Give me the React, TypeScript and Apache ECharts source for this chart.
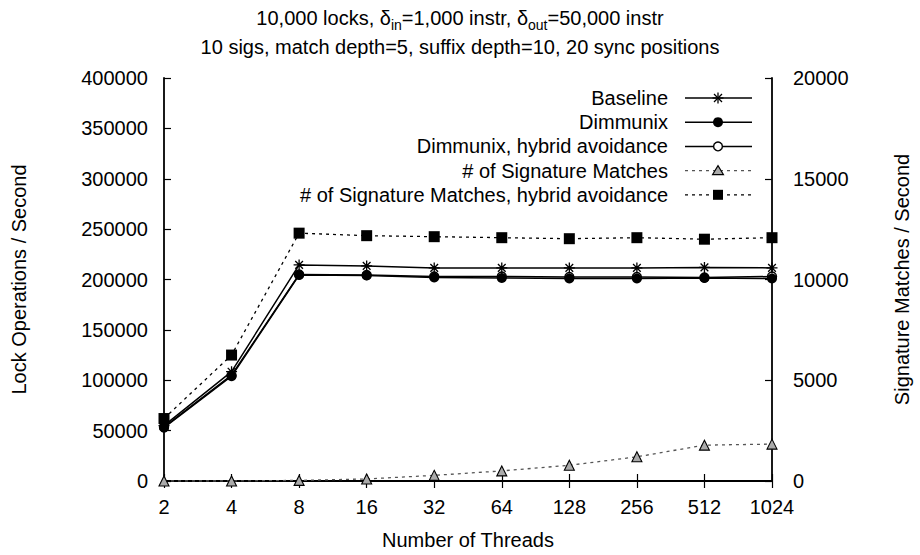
import React, { useEffect, useRef } from "react";
import * as echarts from "echarts";

const threads = ["2", "4", "8", "16", "32", "64", "128", "256", "512", "1024"];
const baseline = [55000, 108500, 214500, 213500, 211500, 211500, 211500, 211500, 212000, 211500];
const dimmunix = [53000, 104000, 204500, 204000, 202000, 201500, 201000, 201000, 201500, 201000];
const dimmunixHybrid = [53500, 105000, 205000, 204500, 203000, 203000, 202500, 202500, 202000, 203000];
const sigMatches = [0, 0, 30, 100, 280, 500, 780, 1200, 1780, 1830];
const sigMatchesHybrid = [3100, 6250, 12300, 12175, 12125, 12075, 12025, 12075, 12000, 12075];

const seriesNames = [
  "Baseline",
  "Dimmunix",
  "Dimmunix, hybrid avoidance",
  "# of Signature Matches",
  "# of Signature Matches, hybrid avoidance",
];
const leftTicks = { min: 0, max: 400000, interval: 50000 };
const rightTicks = { min: 0, max: 20000, interval: 5000 };

const FONT = "'Liberation Sans', Arial, Helvetica, sans-serif";
const FS = 20;
const STAR = "path://M0,-10L0,10M-10,0L10,0M-7,-7L7,7M-7,7L7,-7";

export default function App() {
  const ref = useRef<HTMLDivElement>(null);
  useEffect(() => {
    if (!ref.current) return;
    const chart = echarts.init(ref.current, undefined, { renderer: "svg" });
    const grid = { left: 164, right: 139, top: 78, bottom: 73 };
    const legendX = 668;
    const legendY0 = 98;
    const legendDy = 24.2;
    const sx0 = 685;
    const sx1 = 752;
    const mx = 718;
    const legendItems: any[] = [];
    const dash = [3, 4];
    seriesNames.forEach((name, i) => {
      const y = legendY0 + i * legendDy;
      legendItems.push({
        type: "text",
        x: legendX,
        y,
        style: { text: name, font: `${FS}px ${FONT}`, fill: "#000", align: "right", verticalAlign: "middle" },
      });
      legendItems.push({
        type: "line",
        shape: { x1: sx0, y1: y, x2: sx1, y2: y },
        style: {
          stroke: i === 3 ? "#555" : "#000",
          lineWidth: i < 3 ? 1.5 : 1.3,
          lineDash: i < 3 ? null : dash,
        },
      });
      if (i === 0) {
        const r = 5.5;
        const d = 4;
        [
          [0, -r, 0, r],
          [-r, 0, r, 0],
          [-d, -d, d, d],
          [-d, d, d, -d],
        ].forEach((s) =>
          legendItems.push({
            type: "line",
            shape: { x1: mx + s[0], y1: y + s[1], x2: mx + s[2], y2: y + s[3] },
            style: { stroke: "#000", lineWidth: 1.3 },
          })
        );
      } else if (i === 1) {
        legendItems.push({ type: "circle", shape: { cx: mx, cy: y, r: 5 }, style: { fill: "#000" } });
      } else if (i === 2) {
        legendItems.push({
          type: "circle",
          shape: { cx: mx, cy: y, r: 4.4 },
          style: { fill: "#fff", stroke: "#000", lineWidth: 1.4 },
        });
      } else if (i === 3) {
        legendItems.push({
          type: "polygon",
          shape: { points: [[mx, y - 5], [mx + 5.5, y + 4], [mx - 5.5, y + 4]] },
          style: { fill: "#aaa", stroke: "#000", lineWidth: 1.1 },
        });
      } else {
        legendItems.push({ type: "rect", shape: { x: mx - 5, y: y - 5, width: 10, height: 10 }, style: { fill: "#000" } });
      }
    });

    const axisLine = { show: true, lineStyle: { color: "#000", width: 1.8 } };
    const tick = { show: true, inside: true, length: 7, lineStyle: { color: "#000", width: 1.2 } };
    const labelStyle = { color: "#000", fontSize: FS, fontFamily: FONT };
    const plain = (v: number) => String(v);

    chart.setOption({
      animation: false,
      backgroundColor: "#fff",
      textStyle: { fontFamily: FONT },
      title: {
        text: "{n|10,000 locks, δ}{sub|in}{n|=1,000 instr, δ}{sub|out}{n|=50,000 instr}\n{n|10 sigs, match depth=5, suffix depth=10, 20 sync positions}",
        left: "center",
        top: -2,
        textStyle: {
          fontSize: FS,
          fontWeight: "normal",
          fontFamily: FONT,
          color: "#000",
          lineHeight: 29,
          rich: {
            n: { fontSize: FS, fontFamily: FONT, color: "#000", lineHeight: 29, verticalAlign: "middle" },
            sub: { fontSize: 14, fontFamily: FONT, color: "#000", lineHeight: 29, verticalAlign: "bottom", padding: [0, 0, 0, 0] },
          },
        },
      },
      grid: { ...grid, show: false },
      xAxis: [
        {
          type: "category",
          data: threads,
          boundaryGap: false,
          position: "bottom",
          axisLine,
          axisTick: { ...tick, alignWithLabel: true },
          axisLabel: { ...labelStyle, margin: 16 },
          splitLine: { show: false },
          name: "Number of Threads",
          nameLocation: "middle",
          nameGap: 49,
          nameTextStyle: labelStyle,
        },
        {
          type: "category",
          data: threads,
          boundaryGap: false,
          position: "top",
          axisLine,
          axisTick: tick,
          axisLabel: { show: false },
          splitLine: { show: false },
        },
      ],
      yAxis: [
        {
          type: "value",
          position: "left",
          ...leftTicks,
          axisLine,
          axisTick: tick,
          axisLabel: { ...labelStyle, margin: 16, formatter: plain },
          splitLine: { show: false },
          name: "Lock Operations / Second",
          nameLocation: "middle",
          nameRotate: 90,
          nameGap: 135,
          nameTextStyle: labelStyle,
        },
        {
          type: "value",
          position: "right",
          ...rightTicks,
          axisLine,
          axisTick: tick,
          axisLabel: { ...labelStyle, margin: 21, formatter: plain },
          splitLine: { show: false },
          name: "Signature Matches / Second",
          nameLocation: "middle",
          nameRotate: 90,
          nameGap: 120,
          nameTextStyle: labelStyle,
        },
      ],
      graphic: legendItems,
      series: [
        {
          name: seriesNames[3],
          type: "line",
          yAxisIndex: 1,
          data: sigMatches,
          symbol: "triangle",
          symbolSize: 10,
          lineStyle: { color: "#555", width: 1.3, type: dash },
          itemStyle: { color: "#aaa", borderColor: "#000", borderWidth: 1.1 },
          z: 2,
        },
        {
          name: seriesNames[4],
          type: "line",
          yAxisIndex: 1,
          data: sigMatchesHybrid,
          symbol: "rect",
          symbolSize: 11,
          lineStyle: { color: "#000", width: 1.3, type: dash },
          itemStyle: { color: "#000", borderWidth: 0 },
          z: 3,
        },
        {
          name: seriesNames[2],
          type: "line",
          data: dimmunixHybrid,
          symbol: "circle",
          symbolSize: 9,
          lineStyle: { color: "#000", width: 1.5 },
          itemStyle: { color: "#fff", borderColor: "#000", borderWidth: 1.4 },
          z: 4,
        },
        {
          name: seriesNames[1],
          type: "line",
          data: dimmunix,
          symbol: "circle",
          symbolSize: 10,
          lineStyle: { color: "#000", width: 1.5 },
          itemStyle: { color: "#000", borderWidth: 0 },
          z: 5,
        },
        {
          name: seriesNames[0],
          type: "line",
          data: baseline,
          symbol: STAR,
          symbolSize: 11,
          lineStyle: { color: "#000", width: 1.5 },
          itemStyle: { color: "#000", borderColor: "#000", borderWidth: 1.3 },
          z: 6,
        },
      ],
    });
    return () => chart.dispose();
  }, []);
  return <div ref={ref} style={{ position: "absolute", left: 0, top: 0, width: 920, height: 555 }} />;
}
